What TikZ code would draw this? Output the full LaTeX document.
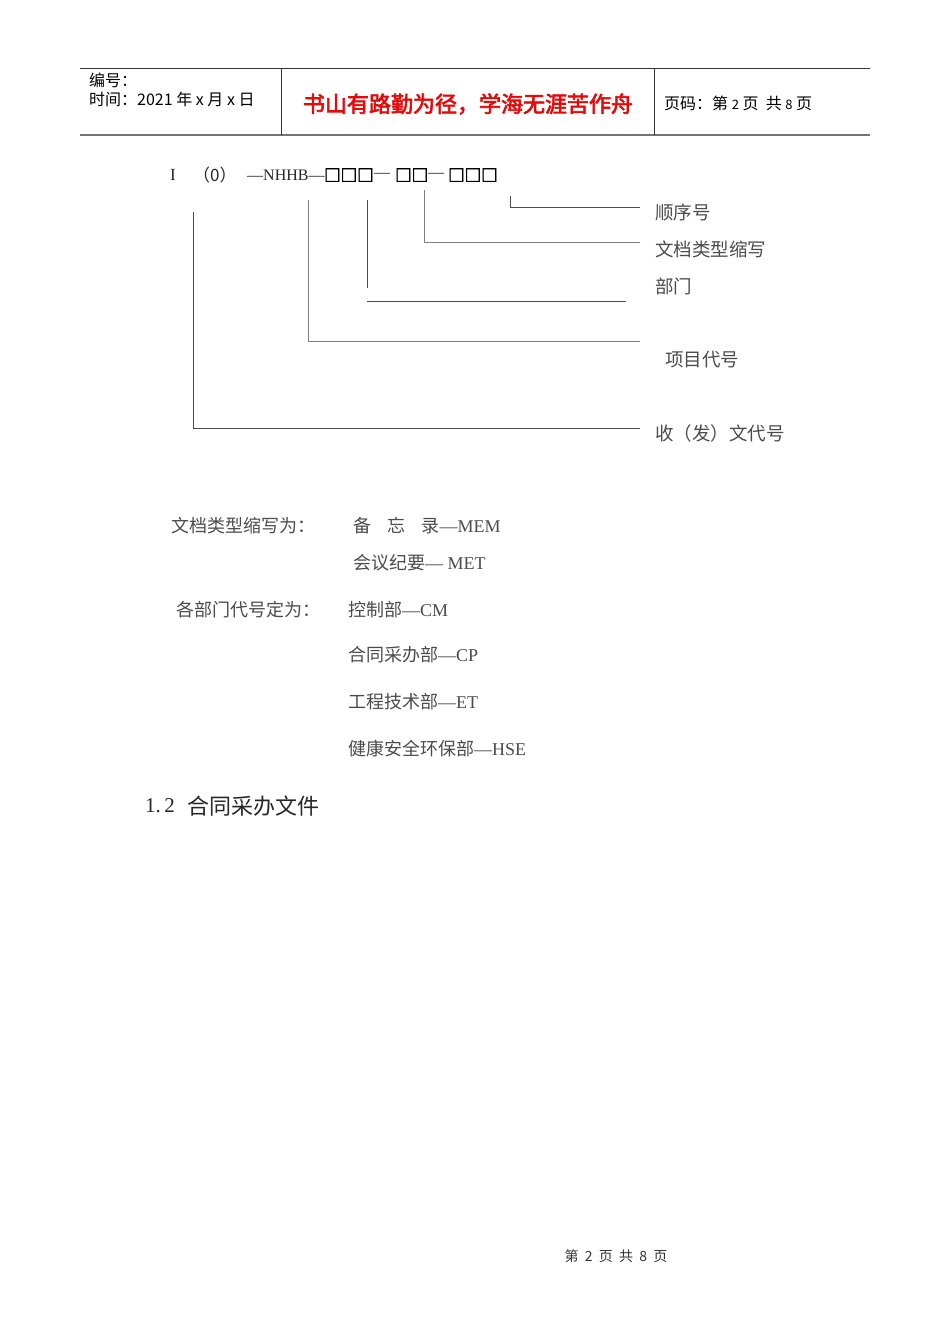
\documentclass[tikz,border=0pt]{standalone}
\usepackage{fontspec}
\setmainfont{Noto Sans CJK SC}
\newfontfamily\latinserif{Liberation Serif}
\newfontfamily\boxfont{Noto Sans CJK SC}[FakeBold=3]
\usetikzlibrary{positioning}
\definecolor{mottored}{RGB}{228,10,10}
\definecolor{textgray}{RGB}{75,75,75}
\tikzset{
  txt/.style={anchor=west, inner sep=0pt, font=\fontsize{18}{21}\selectfont, text=textgray},
  lbltxt/.style={txt, font=\fontsize{18.5}{22}\selectfont},
  headtxt/.style={anchor=west, inner sep=0pt, font=\fontsize{16}{19}\selectfont, text=black},
  boxes/.style={anchor=west, inner sep=0pt, font=\fontsize{16.5}{20}\boxfont, text=black},
  codedash/.style={txt, text=black!85, font=\fontsize{16}{20}\latinserif},
  lead/.style={draw=black!70, line width=0.9pt},
  rule/.style={draw=black!80, line width=0.8pt},
}
\begin{document}
\begin{tikzpicture}[x=1pt, y=-1pt]
    \useasboundingbox (0,0) rectangle (950,1344);

    % Header table
    \coordinate (hTL) at (80,68);
    \coordinate (hTR) at (870,68);
    \coordinate (hBL) at (80,135);
    \coordinate (hBR) at (870,135);
    \draw [rule] (hTL) -- (hTR);
    \draw [draw=black!55, line width=2pt] (hBL) -- (hBR);
    \draw [rule] (281,68) coordinate (v1t) -- (281,135) coordinate (v1b);
    \draw [rule] (654,68) coordinate (v2t) -- (654,135) coordinate (v2b);

    \node [headtxt] (serial) at (89,80) {编号：};
    \node [headtxt] (date) at (89,99) {时间：2021 年 x 月 x 日};
    \node [anchor=center, inner sep=0pt, font=\fontsize{22}{26}\boxfont, text=mottored]
          (motto) at (468,104) {书山有路勤为径，学海无涯苦作舟};
    \node [headtxt] (pageno) at (664,103) {页码：第 {\fontsize{13}{15}\selectfont 2} 页\ \ 共 {\fontsize{13}{15}\selectfont 8} 页};

    % Code pattern
    \node [txt, text=black!85, font=\fontsize{17}{20}\latinserif] (code-i) at (170,175) {I};
    \node [txt, text=black!85, font=\fontsize{17}{20}\selectfont] (code-zero) at (193,175) {（0）};
    \node [codedash] (code-nhhb) at (247,175) {—NHHB—};
    \node [boxes] (box-a) at (324,175) {□□□};
    \node [codedash] (dash-a) at (374,175) {—};
    \node [boxes] (box-b) at (395,175) {□□};
    \node [codedash] (dash-b) at (428,175) {—};
    \node [boxes] (box-c) at (448,175) {□□□};

    % Labels
    \node [lbltxt] (seq) at (655,212) {顺序号};
    \node [lbltxt] (doctype) at (655,249) {文档类型缩写};
    \node [lbltxt] (dept) at (655,286) {部门};
    \node [lbltxt] (project) at (665,360) {项目代号};
    \node [lbltxt] (recv) at (655,433) {收（发）文代号};

    % Leader lines
    \draw [lead] (510,196) -- (510,207) -- (640,207);
    \draw [lead, draw=black!50] (424,190) -- (424,242) -- (640,242);
    \draw [lead] (367,200) -- (367,288);
    \draw [lead] (367,301) -- (626,301);
    \draw [lead, draw=black!50] (308,200) -- (308,341) -- (640,341);
    \draw [lead] (193,212) -- (193,428) -- (640,428);

    % Abbreviations
    \node [txt] (type-title) at (171,526) {文档类型缩写为：};
    \node [txt] (memo) at (353,526) {备\hspace{0.9em}忘\hspace{0.9em}录{\latinserif —MEM}};
    \node [txt] (minutes) at (353,563) {会议纪要{\latinserif — MET}};
    \node [txt] (dept-title) at (176,610) {各部门代号定为：};
    \node [txt] (dept-cm) at (348,610) {控制部{\latinserif —CM}};
    \node [txt] (dept-cp) at (348,655) {合同采办部{\latinserif —CP}};
    \node [txt] (dept-et) at (348,702) {工程技术部{\latinserif —ET}};
    \node [txt] (dept-hse) at (348,749) {健康安全环保部{\latinserif —HSE}};

    % Section heading
    \node [txt, text=black!85, font=\fontsize{21}{24}\latinserif] (sec-num) at (145,806) {1.\,2};
    \node [txt, text=black!85, font=\fontsize{22}{26}\selectfont] (sec-title) at (187,806) {合同采办文件};

    % Footer
    \node [anchor=center, inner sep=0pt, font=\fontsize{14}{16}\selectfont, text=black!80]
          (footer) at (616,1256) {第\ \ 2\ \ 页\ \ 共\ \ 8\ \ 页};
\end{tikzpicture}
\end{document}
